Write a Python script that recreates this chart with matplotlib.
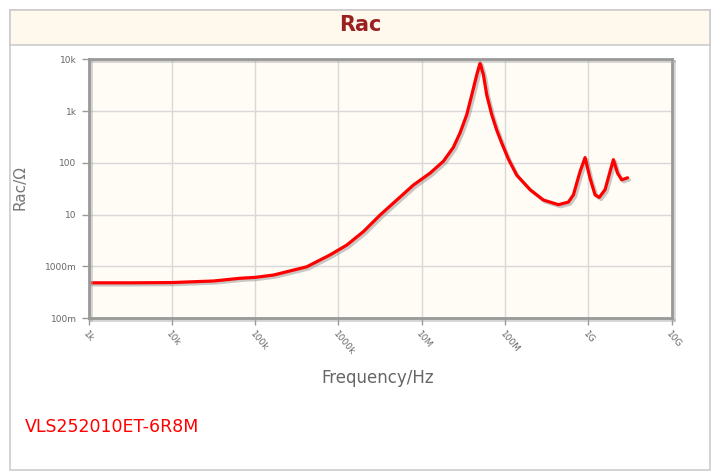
import matplotlib
matplotlib.use('Agg')
import matplotlib.pyplot as plt
import matplotlib.patheffects as pe
from matplotlib.patches import Rectangle
import numpy as np

# values: log10(frequency / Hz) and log10(Rac / ohm)
log_freq = [3.0, 3.5, 4.0, 4.5, 4.82, 5.0, 5.22, 5.62, 5.9, 6.1, 6.3, 6.5, 6.7,
            6.9, 7.1, 7.26, 7.38, 7.46, 7.54, 7.6, 7.66, 7.7, 7.74, 7.78, 7.84,
            7.9, 7.96, 8.04, 8.14, 8.3, 8.46, 8.64, 8.76, 8.82, 8.9, 8.96,
            9.02, 9.08, 9.13, 9.2, 9.26, 9.3, 9.35, 9.4, 9.47]
log_rac = [-0.32, -0.32, -0.315, -0.285, -0.232, -0.215, -0.17, -0.01, 0.22, 0.41, 0.67, 0.99, 1.28,
           1.57, 1.80, 2.03, 2.30, 2.58, 2.93, 3.31, 3.70, 3.93, 3.70, 3.31, 2.93,
           2.63, 2.38, 2.07, 1.76, 1.48, 1.28, 1.19, 1.24, 1.38, 1.83, 2.10,
           1.70, 1.38, 1.33, 1.48, 1.83, 2.06, 1.80, 1.67, 1.71]
freq = [10 ** v for v in log_freq]
rac = [10 ** v for v in log_rac]

x_ticks = [1e3, 1e4, 1e5, 1e6, 1e7, 1e8, 1e9, 1e10]
x_labels = ['1k', '10k', '100k', '1000k', '10M', '100M', '1G', '10G']
y_ticks = [0.1, 1, 10, 100, 1e3, 1e4]
y_labels = ['100m', '1000m', '10', '100', '1k', '10k']

W, H = 717, 476
fig = plt.figure(figsize=(W / 100, H / 100), dpi=100)
fig.patch.set_facecolor('white')

# outer box and title band (behind the axes)
fig.patches.append(Rectangle((10 / W, 1 - 470 / H), 700 / W, 460 / H, transform=fig.transFigure,
                             facecolor='white', edgecolor='#cccccc', lw=1.2, zorder=-2))
fig.patches.append(Rectangle((10 / W, 1 - 45 / H), 700 / W, 35 / H, transform=fig.transFigure,
                             facecolor='#fef9ec', edgecolor='#cccccc', lw=1.2, zorder=-1))
fig.text(360 / W, 1 - 25 / H, 'Rac', ha='center', va='center', fontsize=15,
         fontweight='bold', color='#9b2020')

ax = fig.add_axes([88.5 / W, 1 - 318 / H, (671.7 - 88.5) / W, (318 - 59.3) / H])
ax.set_facecolor('#fffcf5')
ax.set_xscale('log')
ax.set_yscale('log')
ax.set_xlim(1e3, 1e10)
ax.set_ylim(0.1, 1e4)

ax.plot(freq, rac, color='red', lw=2.3, solid_joinstyle='round', solid_capstyle='round',
        path_effects=[pe.SimpleLineShadow(offset=(1.5, -1.5), shadow_color='#888888', alpha=0.45),
                      pe.Normal()])

ax.set_xticks(x_ticks)
ax.set_xticklabels(x_labels, rotation=-50, ha='left', va='top', rotation_mode='anchor')
ax.set_yticks(y_ticks)
ax.set_yticklabels(y_labels)
ax.minorticks_off()
ax.tick_params(axis='both', colors='#999999', labelcolor='#666666', labelsize=6.5,
               length=5, width=1)
ax.tick_params(axis='x', direction='out', pad=3)
ax.grid(True, color='#d8d8d8', lw=1)
ax.set_axisbelow(True)
for s in ax.spines.values():
    s.set_color('#999999')
    s.set_linewidth(2)
    s.set_path_effects([pe.SimpleLineShadow(offset=(1.5, -1.5), shadow_color='#aaaaaa', alpha=0.5),
                        pe.Normal()])

fig.text(20 / W, 1 - 188 / H, 'Rac/\u03a9', rotation=90, ha='center', va='center',
         fontsize=11, color='#777777')
fig.text(378 / W, 1 - 378 / H, 'Frequency/Hz', ha='center', va='center',
         fontsize=12, color='#666666')
fig.text(25 / W, 1 - 427 / H, 'VLS252010ET-6R8M', ha='left', va='center',
         fontsize=12.5, color='red')

fig.savefig('out.png', dpi=100)
